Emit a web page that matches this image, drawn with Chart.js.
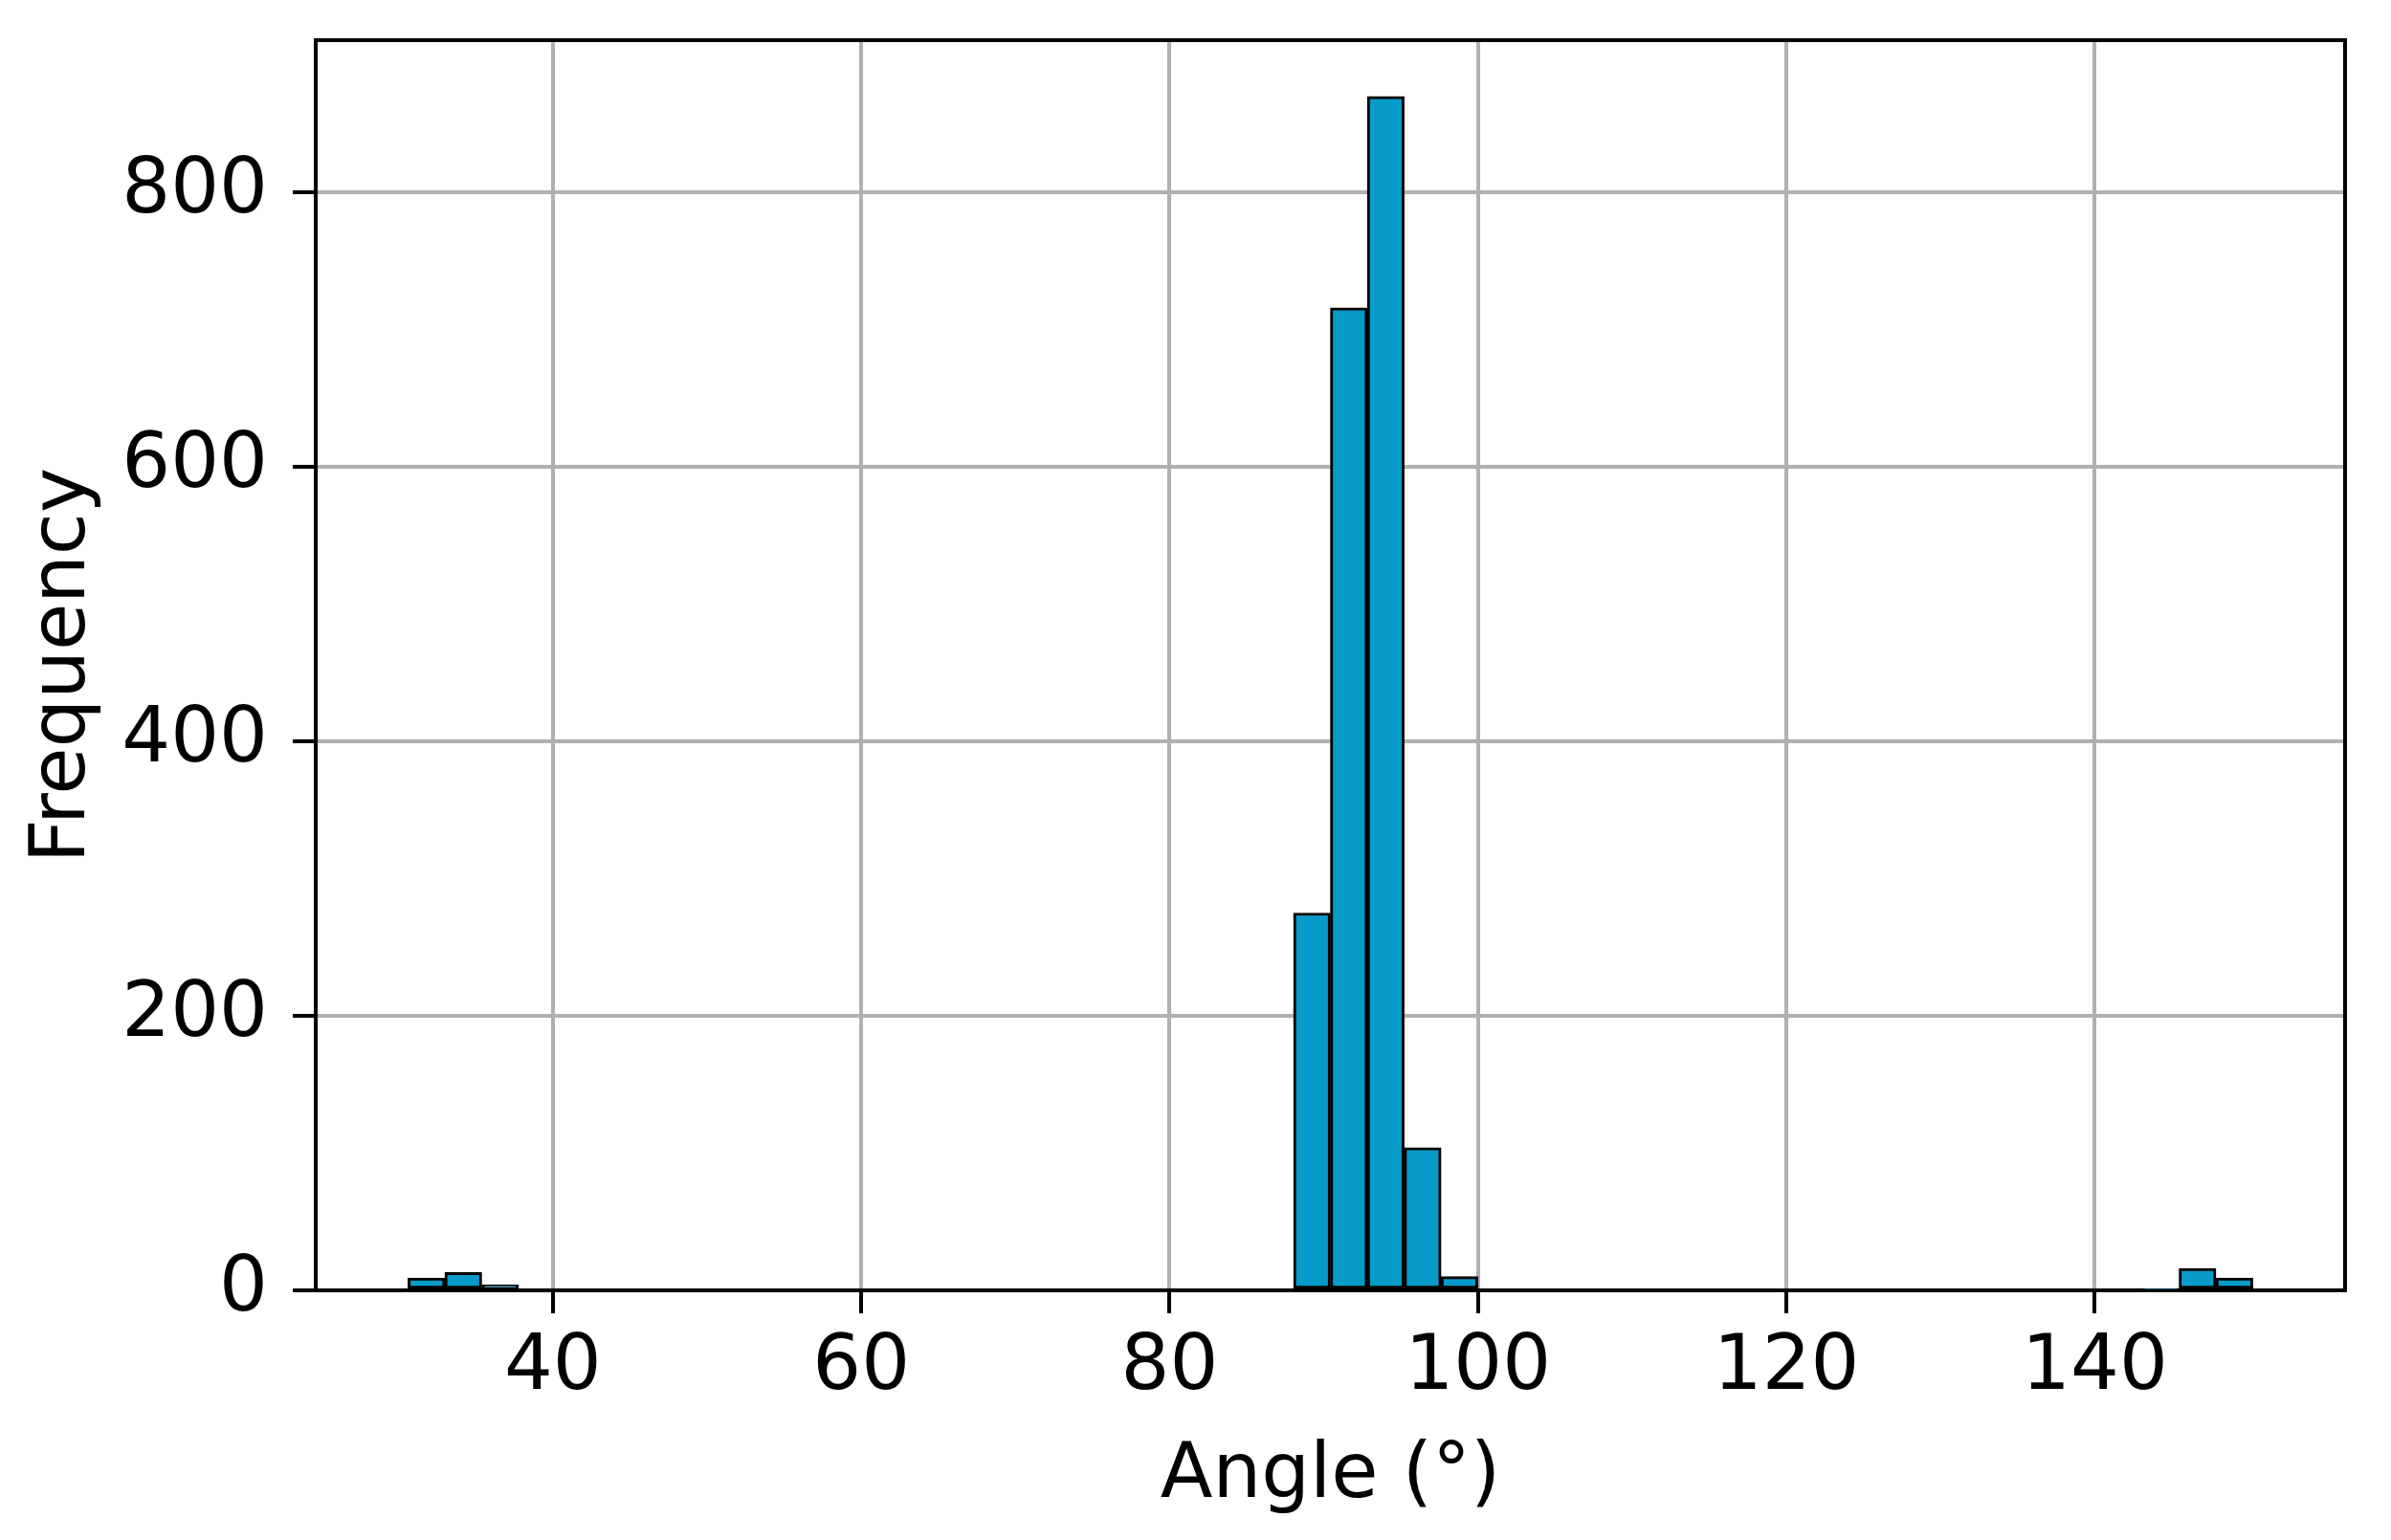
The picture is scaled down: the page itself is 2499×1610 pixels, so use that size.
<!DOCTYPE html>
<html lang="en">

<head>
    <meta charset="UTF-8">
    <title>Angle histogram</title>
    <script src="https://cdn.jsdelivr.net/npm/chart.js@4.4.0/dist/chart.umd.min.js"></script>
    <style>
        body { margin: 0; background: #fff; }
    </style>
</head>

<body>
    <canvas id="chart" width="2499" height="1610"></canvas>
</body>
<script>
    // histogram: 50 equal bins between binMin and binMax
    var binMin = 30.6;
    var binMax = 150.25;
    var counts = [
        9, 13, 4, 0, 0, 0, 0, 0, 0, 0,
        0, 0, 0, 0, 0, 0, 0, 0, 0, 0,
        0, 0, 0, 0, 275, 716, 870, 104, 10, 0,
        0, 0, 0, 0, 0, 0, 0, 0, 0, 0,
        0, 0, 0, 0, 0, 0, 0, 1, 16, 9
    ];
    var xTicks = [40, 60, 80, 100, 120, 140];
    var yTicks = [0, 200, 400, 600, 800];

    var binWidth = (binMax - binMin) / counts.length;
    var points = counts.map(function (c, i) {
        return { x: binMin + binWidth * (i + 0.5), y: c };
    });

    Chart.defaults.font.family = "'DejaVu Sans', sans-serif";
    Chart.defaults.font.size = 80;
    Chart.defaults.color = '#000';

    // top and right spines
    var frame = {
        id: 'frame',
        afterDraw: function (chart) {
            var a = chart.chartArea, ctx = chart.ctx;
            ctx.save();
            ctx.strokeStyle = '#000';
            ctx.lineWidth = 4;
            ctx.beginPath();
            ctx.moveTo(a.left, a.top);
            ctx.lineTo(a.right, a.top);
            ctx.lineTo(a.right, a.bottom);
            ctx.stroke();
            ctx.restore();
        }
    };

    var context = document.getElementById("chart");
    var config = {
        type: 'bar',
        data: {
            datasets: [{
                label: 'Frequency',
                data: points,
                backgroundColor: '#079bc9',
                borderColor: '#000',
                borderWidth: 3,
                borderSkipped: false,
                barPercentage: 1,
                categoryPercentage: 1
            }]
        },
        options: {
            responsive: false,
            animation: false,
            layout: { padding: { left: 0, top: 42, right: 48, bottom: 0 } },
            plugins: { legend: { display: false }, tooltip: { enabled: false } },
            scales: {
                x: {
                    type: 'linear',
                    z: 1,
                    offset: false,
                    min: 24.62,
                    max: 156.23,
                    afterBuildTicks: function (s) { s.ticks = xTicks.map(function (v) { return { value: v }; }); },
                    afterFit: function (s) { s.height = 261; s.paddingLeft = 0; s.paddingRight = 0; },
                    grid: { offset: false, color: '#b0b0b0', lineWidth: 4, tickColor: '#000', tickWidth: 4, tickLength: 24 },
                    border: { color: '#000', width: 4 },
                    ticks: { padding: 10, maxRotation: 0 },
                    title: { display: true, text: 'Angle (°)', padding: { top: 0, bottom: 18 } }
                },
                y: {
                    z: 1,
                    min: 0,
                    max: 911,
                    afterBuildTicks: function (s) { s.ticks = yTicks.map(function (v) { return { value: v }; }); },
                    afterFit: function (s) { s.width = 330; s.paddingTop = 0; s.paddingBottom = 0; },
                    grid: { color: '#b0b0b0', lineWidth: 4, tickColor: '#000', tickWidth: 4, tickLength: 24 },
                    border: { color: '#000', width: 4 },
                    ticks: { padding: 26 },
                    title: { display: true, text: 'Frequency', padding: { top: 19, bottom: 0 } }
                }
            }
        },
        plugins: [frame]
    };
    var chart = new Chart(context, config);
</script>

</html>
